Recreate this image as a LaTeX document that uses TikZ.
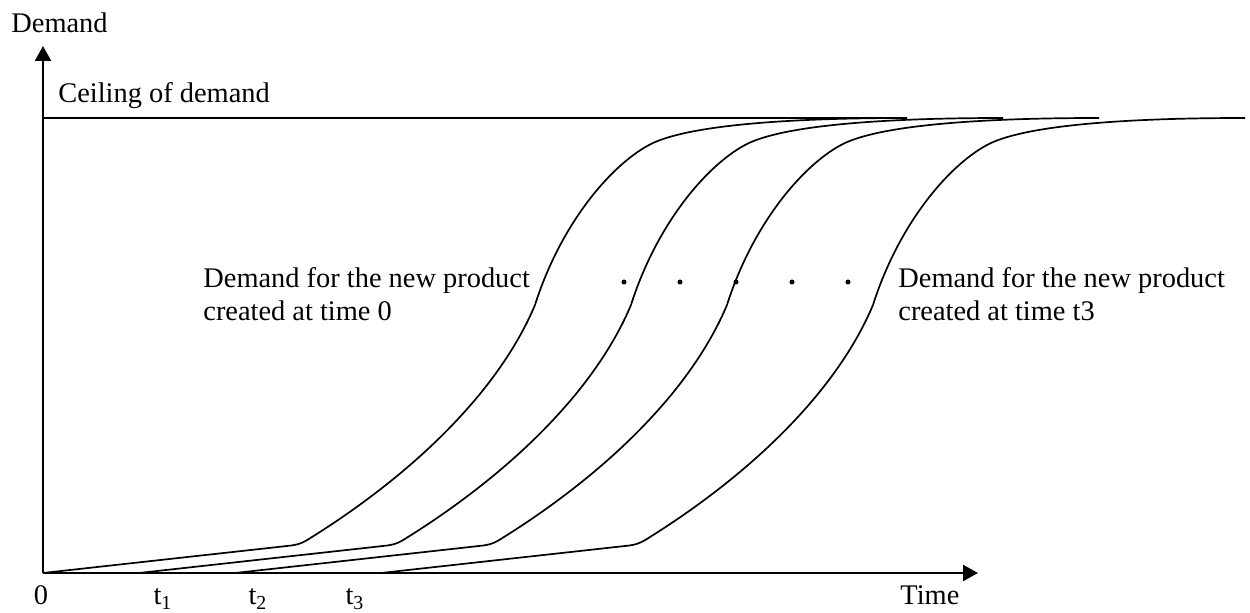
\documentclass[tikz,border=0pt]{standalone}
\usepackage{fontspec}
\setmainfont{Liberation Serif}
\usetikzlibrary{arrows.meta}

\begin{document}
\begin{tikzpicture}[x=0.5pt, y=-0.5pt,
	axis/.style = {line width=1.2pt, -{Triangle[length=7.5pt,width=8pt]}},
	curve/.style = {line width=0.85pt},
	lbl/.style = {font=\fontsize{14.2}{16.5}\selectfont, inner sep=0pt, align=left}]
	\useasboundingbox (0,0) rectangle (1250,613);
	\coordinate (o) at (43,573);
	\coordinate (ytop) at (43,46);
	\coordinate (xend) at (978,573);
	\coordinate (ceil0) at (43,118);
	\coordinate (ceil1) at (907,118);
	\draw[axis] (o) -- (ytop);
	\draw[axis] (o) -- (xend);
	\draw[line width=1pt] (ceil0) -- (ceil1);
	\foreach \s in {0,96,192,338}
		\draw[curve, shift={(\s,0)}] (43,573) -- (287,546)
			.. controls (298,545) and (303,543) .. (312,537)
			.. controls (400,482) and (495,400) .. (535,305)
			.. controls (562,220) and (615,161) .. (653,143)
			.. controls (690,126) and (780,118) .. (907,118);
	\foreach \x in {624,680,736,792,848}
		\fill (\x,282) circle (2.5);
	\node[lbl, anchor=base west] (ylab) at (11,33) {Demand};
	\node[lbl, anchor=base west] (ceil) at (58,103) {Ceiling of demand};
	\node[lbl, anchor=base west] (first) at (203,321) {Demand for the new product\\created at time 0};
	\node[lbl, anchor=base west] (last) at (898,321) {Demand for the new product\\created at time t3};
	\node[lbl, anchor=base] (zero) at (41,605) {0};
	\node[lbl, anchor=base] (t1) at (163,605) {t\textsubscript{1}};
	\node[lbl, anchor=base] (t2) at (258,605) {t\textsubscript{2}};
	\node[lbl, anchor=base] (t3) at (355,605) {t\textsubscript{3}};
	\node[lbl, anchor=base west] (xlab) at (900,605) {Time};
\end{tikzpicture}
\end{document}
